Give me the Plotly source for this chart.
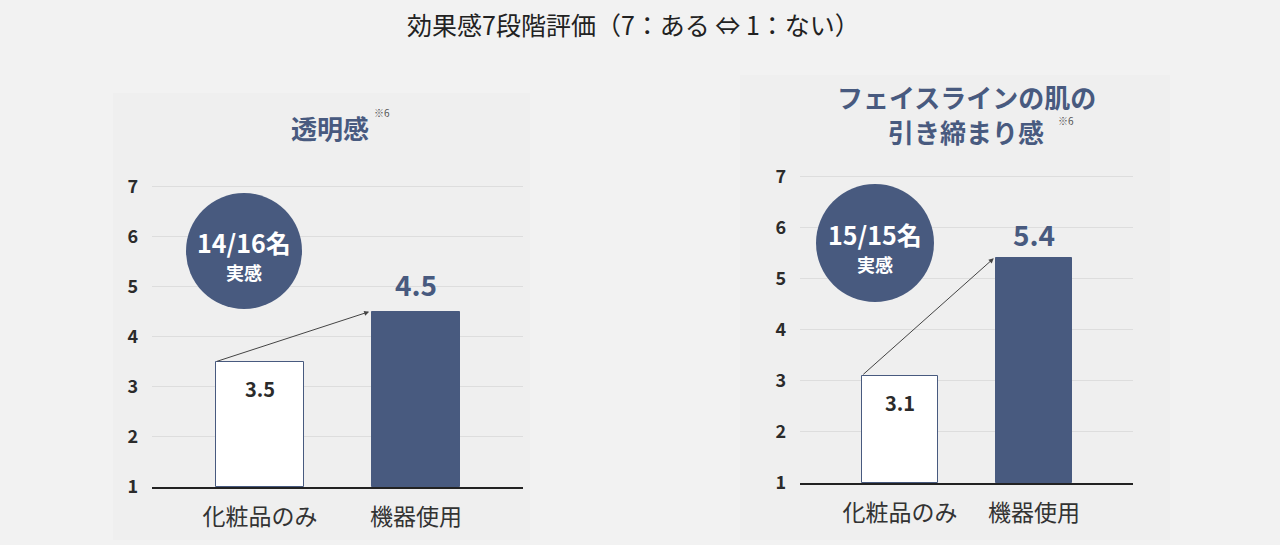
import plotly.graph_objects as go

# ---- data ----
categories = ["化粧品のみ", "機器使用"]
clarity_scores = [3.5, 4.5]
firming_scores = [3.1, 5.4]
y_ticks = [1, 2, 3, 4, 5, 6, 7]
badge_counts = ["14/16名", "15/15名"]
title_left = ["透明感"]
title_right = ["フェイスラインの肌の", "引き締まり感"]
main_title = "効果感7段階評価（7：ある ⇔ 1：ない）"

W, H = 1280, 545
NAVY = "#485a7f"
DARK = "#2b2b2b"
FONT = "Noto Sans CJK JP"
BAR_W = 0.57


def px(x):
    return x / W


def py(y):
    return 1 - y / H


def note(text, x, y, size, color, weight="normal", **kw):
    fig.add_annotation(text=text, xref="paper", yref="paper", x=px(x), y=py(y), showarrow=False,
                       xanchor="center", yanchor="middle",
                       font=dict(family=FONT, size=size, color=color, weight=weight), **kw)


fig = go.Figure()

x_pos = [0, 1]
for vals, xa, ya in [(clarity_scores, "x", "y"), (firming_scores, "x2", "y2")]:
    fig.add_trace(go.Bar(
        x=x_pos, y=[v - 1 for v in vals], base=[1, 1], width=BAR_W,
        marker=dict(color=["#ffffff", NAVY], line=dict(color=[NAVY, NAVY], width=1)),
        xaxis=xa, yaxis=ya, showlegend=False, hoverinfo="skip",
    ))

common_y = dict(range=[1, 7.03], tickvals=y_ticks, showgrid=True, gridcolor="#dddddd", gridwidth=1,
                zeroline=False, showline=False, ticks="", ticklabelstandoff=13, automargin=False,
                tickfont=dict(family=FONT, size=18, color=DARK, weight="bold"))
common_x = dict(tickvals=x_pos, ticktext=categories, showgrid=False, zeroline=False, automargin=False,
                showline=True, linecolor="#222222", linewidth=2, ticks="", ticklabelstandoff=8,
                tickfont=dict(family=FONT, size=23, color="#333333", weight="normal"))

fig.update_layout(
    width=W, height=H, margin=dict(l=0, r=0, t=0, b=0, autoexpand=False),
    paper_bgcolor="#f2f2f2", plot_bgcolor="rgba(0,0,0,0)",
    bargap=0, showlegend=False,
    xaxis=dict(domain=[px(152), px(523)], range=[-0.692, 1.686], anchor="y", **common_x),
    yaxis=dict(domain=[py(487), py(185)], anchor="x", **common_y),
    xaxis2=dict(domain=[px(800), px(1133)], range=[-0.746, 1.739], anchor="y2", **common_x),
    yaxis2=dict(domain=[py(483), py(175)], anchor="x2", **common_y),
)

# subtle panel backgrounds
for (x0, y0, x1, y1) in [(113, 93, 530, 540), (740, 75, 1170, 540)]:
    fig.add_shape(type="rect", xref="paper", yref="paper", x0=px(x0), x1=px(x1), y0=py(y1), y1=py(y0),
                  fillcolor="#efefef", line=dict(width=0), layer="below")

# main title
note(main_title, 633, 24, 25, "#222222")

# panel titles
note(title_left[0], 330, 127, 26, NAVY, "bold")
note("※6", 382, 112, 10, "#555555")
note(title_right[0], 966, 96, 26, NAVY, "bold")
note(title_right[1], 966, 131, 26, NAVY, "bold")
note("※6", 1066, 121, 10, "#555555")

# badges
for (cx, cy, r), badge in zip([(244, 251, 58), (875, 243, 59)], badge_counts):
    fig.add_shape(type="circle", xref="paper", yref="paper", x0=px(cx - r), x1=px(cx + r),
                  y0=py(cy + r), y1=py(cy - r), fillcolor=NAVY, line=dict(width=0))
    note(badge, cx, cy - 9, 25, "white", "bold")
    note("実感", cx, cy + 21, 18, "white", "bold")

# value labels and arrows
for vals, xa, ya, shift in [(clarity_scores, "x", "y", 6), (firming_scores, "x2", "y2", 2)]:
    fig.add_annotation(text="%.1f" % vals[1], x=1, y=vals[1], xref=xa, yref=ya, showarrow=False,
                       xanchor="center", yanchor="bottom", yshift=shift,
                       font=dict(family=FONT, size=28, color=NAVY, weight="bold"))
    fig.add_annotation(text="%.1f" % vals[0], x=0, y=vals[0], xref=xa, yref=ya, showarrow=False,
                       xanchor="center", yanchor="top", yshift=-10,
                       font=dict(family=FONT, size=20, color=DARK, weight="bold"))
    fig.add_annotation(text="", x=1 - BAR_W / 2 - 0.015, y=vals[1], xref=xa, yref=ya,
                       ax=0 - BAR_W / 2, ay=vals[0], axref=xa, ayref=ya, showarrow=True,
                       arrowhead=2, arrowsize=1, arrowwidth=1, arrowcolor="#444444", standoff=0)

fig.write_html("out.html", config={"displayModeBar": False},
               post_script="document.body.style.margin='0';document.body.style.overflow='hidden';")
